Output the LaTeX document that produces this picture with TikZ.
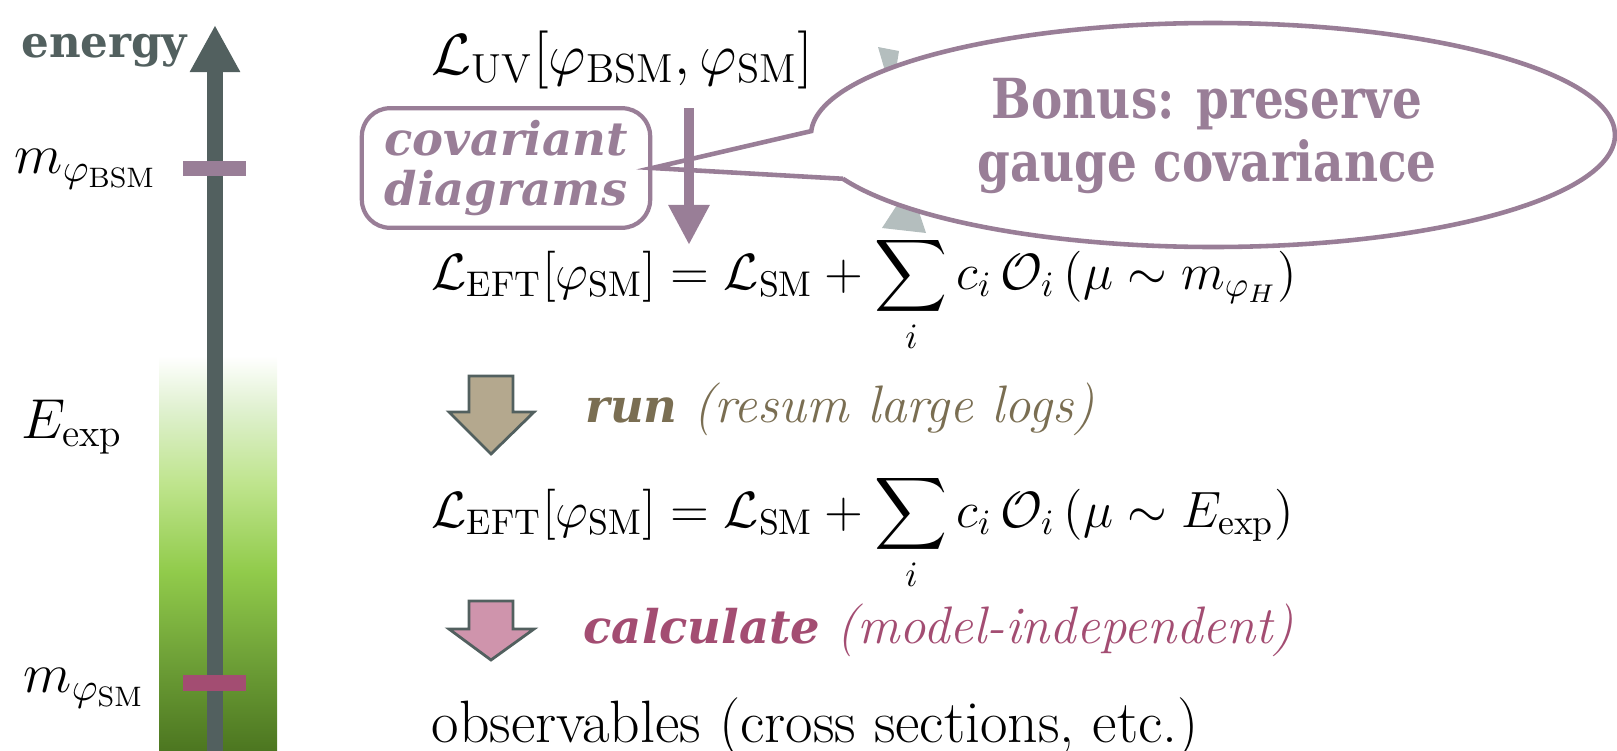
\RequirePackage{fix-cm}
\documentclass[tikz,border=0pt]{standalone}
\usepackage{amsmath}
\usepackage{fontspec}
\newfontfamily\slabfont[FakeStretch=0.85]{DejaVu Serif}
\newfontfamily\energyfont{DejaVu Serif}
\usetikzlibrary{arrows.meta,calc}

\definecolor{axisgray}{RGB}{82,96,95}
\definecolor{covpurple}{RGB}{153,126,151}
\definecolor{smpink}{RGB}{163,77,114}
\definecolor{runbrown}{RGB}{122,110,82}
\definecolor{runfill}{RGB}{180,168,142}
\definecolor{calcfill}{RGB}{207,148,172}
\definecolor{matchgray}{RGB}{180,190,190}
\definecolor{gdark}{RGB}{76,118,32}
\definecolor{gmid}{RGB}{110,160,55}
\definecolor{gbright}{RGB}{145,203,75}
\definecolor{glight}{RGB}{190,228,140}
\definecolor{gpale}{RGB}{222,240,205}

% path box is mapped onto 25bp..75bp of the shading
\pgfdeclareverticalshading{greencol}{100bp}{color(0bp)=(gdark); color(25bp)=(gdark); color(36.5bp)=(gmid); color(47.7bp)=(gbright); color(58.7bp)=(glight); color(67.9bp)=(gpale); color(75bp)=(white); color(100bp)=(white)}

\newcommand{\strongit}{\energyfont\bfseries\itshape\fontsize{13.2}{16}\selectfont}

\begin{document}
\begin{tikzpicture}[
		x=0.01cm, y=-0.01cm,
		line join=miter,
		main/.style={font=\fontsize{14.5}{18}\selectfont, inner sep=0pt, anchor=base west},
		lefttag/.style={font=\fontsize{16}{18}\selectfont, inner sep=0pt, anchor=base west},
		blockarrow/.style={draw=axisgray, line width=0.8pt},
	]
		\useasboundingbox (0,0) rectangle (1617,751);

		% energy scale
		\shade[shading=greencol] (159,356) rectangle (277,751);
		\coordinate (axbot) at (215,751);
		\coordinate (axtop) at (215,25);
		\draw[axisgray, line width=4.55pt, -{Triangle[width=13.4pt,length=13.4pt]}] (axbot) -- (axtop);
		\fill[covpurple] (183,161) rectangle (246,176);
		\fill[smpink] (183,675) rectangle (246,691);

		\node[axisgray, inner sep=0pt, anchor=base east, font=\energyfont\bfseries\fontsize{12.4}{14}\selectfont] (energy) at (188,57) {energy};
		\node[lefttag] (mbsm) at (14,173) {$m_{\varphi_{\mathrm{BSM}}}$};
		\node[lefttag] (eexp) at (21,438) {$E_{\mathrm{exp}}$};
		\node[lefttag] (msm) at (23,692) {$m_{\varphi_{\mathrm{SM}}}$};

		% chain of theories
		\node[main, font=\fontsize{16.5}{18}\selectfont] (uv) at (431,74) {$\mathcal{L}_{\mathrm{UV}}[\varphi_{\mathrm{BSM}},\varphi_{\mathrm{SM}}]$};
		\node[main] (eftone) at (431,289) {$\mathcal{L}_{\mathrm{EFT}}[\varphi_{\mathrm{SM}}] = \mathcal{L}_{\mathrm{SM}} + \displaystyle\sum_i c_i\,\mathcal{O}_i\,(\mu\sim m_{\varphi_H})$};
		\node[main, runbrown, font=\fontsize{15}{18}\selectfont] (runtxt) at (585,422) {{\strongit run} \textit{(resum large logs)}};
		\node[main] (efttwo) at (431,527) {$\mathcal{L}_{\mathrm{EFT}}[\varphi_{\mathrm{SM}}] = \mathcal{L}_{\mathrm{SM}} + \displaystyle\sum_i c_i\,\mathcal{O}_i\,(\mu\sim E_{\mathrm{exp}})$};
		\node[main, smpink, font=\fontsize{15}{18}\selectfont] (calctxt) at (583,643) {{\strongit calculate} \textit{(model-independent)}};
		\node[main, font=\fontsize{17}{18}\selectfont] (obs) at (431,742) {observables (cross sections, etc.)};

		\draw[blockarrow, fill=runfill] (469,376) -- ++(44,0) -- ++(0,36) -- ++(21,0) -- (491,454) -- (449,412) -- ++(20,0) -- cycle;
		\draw[blockarrow, fill=calcfill] (469,601) -- ++(44,0) -- ++(0,28) -- ++(21,0) -- (491,660) -- (449,629) -- ++(20,0) -- cycle;

		% matching step
		\coordinate (covtop) at (689,108);
		\coordinate (covbot) at (689,245);
		\draw[covpurple, line width=2.85pt, -{Triangle[width=11pt,length=11.4pt]}] (covtop) -- (covbot);
		\node[draw=covpurple, line width=1.2pt, rounded corners=8pt, minimum width=82pt, minimum height=34pt,
			align=center, text=covpurple, inner sep=0pt,
			font=\energyfont\bfseries\itshape\fontsize{13.2}{14.2}\selectfont] (covbox) at (506,168) {covariant\\diagrams};

		% speech bubble
		\fill[matchgray] (878,47) -- (899,51) -- (892,95) -- cycle;
		\fill[matchgray] (882,228) -- (926,233) -- (910,185) -- cycle;
		\coordinate (bubc) at (1213,135);
		\fill[white] (bubc) ellipse [x radius=402, y radius=112];
		\coordinate (upjoin) at ($(bubc)+(182:402 and 112)$);
		\coordinate (lowjoin) at ($(bubc)+(157:402 and 112)$);
		\draw[covpurple, line width=1.3pt] (lowjoin) -- (covbox.east) -- (upjoin)
			arc[start angle=182, end angle=517, x radius=402, y radius=112];
		\node[align=center, text=covpurple, inner sep=0pt,
			font=\slabfont\bfseries\fontsize{15.7}{17.9}\selectfont] (bonus) at (1207,136) {Bonus: preserve\\gauge covariance};
	\end{tikzpicture}
\end{document}
